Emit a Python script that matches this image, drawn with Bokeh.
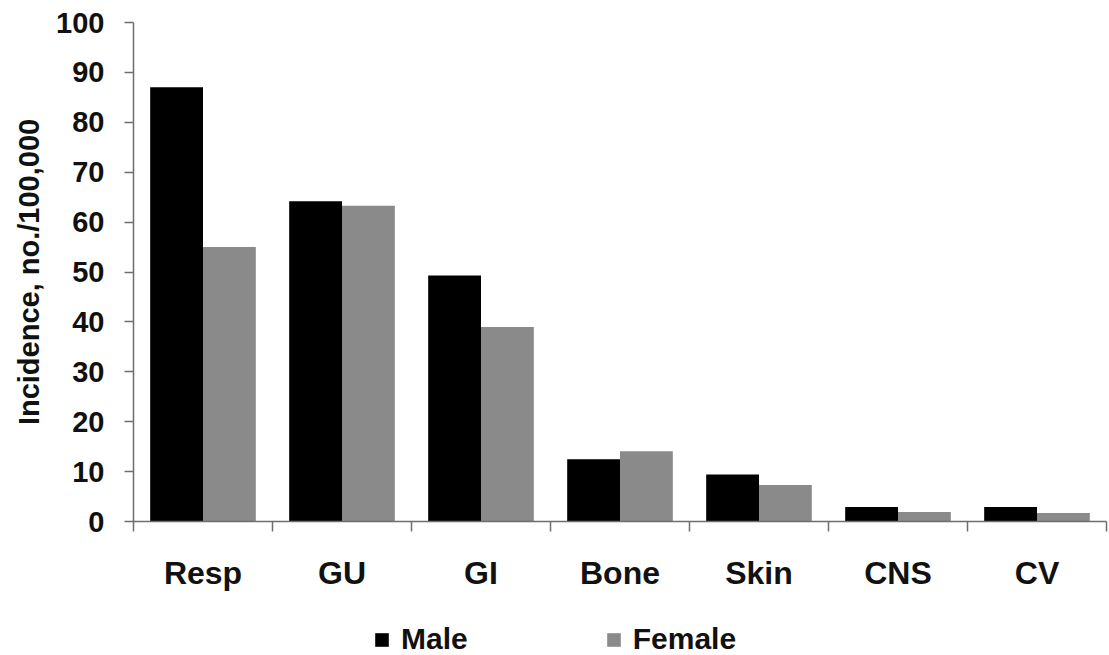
from bokeh.plotting import figure
from bokeh.layouts import column
from bokeh.models import Range1d, FixedTicker, Legend, LegendItem
from bokeh.embed import file_html
from bokeh.resources import INLINE

categories = ["Resp", "GU", "GI", "Bone", "Skin", "CNS", "CV"]
male = [87.0, 64.2, 49.3, 12.5, 9.4, 2.9, 2.9]
female = [55.0, 63.3, 39.0, 14.1, 7.3, 1.9, 1.7]
y_ticks = [0, 10, 20, 30, 40, 50, 60, 70, 80, 90, 100]
series_names = ["Male", "Female"]
colors = ["#000000", "#8a8a8a"]

FONT = "Liberation Sans"
TXT = "#111111"
AX = "#6e6e6e"
bar_w = 0.38
W = 1109
H_MAIN = 600
H_LEG = 55
FRAME_LEFT = 133

p = figure(width=W, height=H_MAIN, output_backend="svg", toolbar_location=None,
           x_range=Range1d(0, len(categories)), y_range=Range1d(0, 100),
           min_border_left=FRAME_LEFT, min_border_right=3, min_border_top=22,
           min_border_bottom=H_MAIN - 521)
p.outline_line_color = None
p.xgrid.visible = False
p.ygrid.visible = False

centers = [i + 0.5 for i in range(len(categories))]
p.vbar(x=[c - bar_w / 2 for c in centers], top=male, width=bar_w,
       fill_color=colors[0], line_color=None)
p.vbar(x=[c + bar_w / 2 for c in centers], top=female, width=bar_w,
       fill_color=colors[1], line_color=None)

# x axis: labels at category centres, ticks at category boundaries
xa = p.xaxis[0]
xa.ticker = FixedTicker(ticks=centers, minor_ticks=list(range(len(categories) + 1)))
xa.major_label_overrides = {c: cat for c, cat in zip(centers, categories)}
xa.major_tick_out = 0
xa.major_tick_in = 0
xa.minor_tick_out = 10
xa.minor_tick_in = 0
xa.minor_tick_line_color = AX
xa.minor_tick_line_width = 1.5
xa.axis_line_color = AX
xa.axis_line_width = 1.5
xa.major_label_text_font = FONT
xa.major_label_text_font_style = "bold"
xa.major_label_text_font_size = "32px"
xa.major_label_text_color = TXT
xa.major_label_standoff = 23

ya = p.yaxis[0]
ya.ticker = FixedTicker(ticks=y_ticks, minor_ticks=[])
ya.major_tick_out = 9
ya.major_tick_in = 0
ya.major_tick_line_color = AX
ya.major_tick_line_width = 1.5
ya.axis_line_color = AX
ya.axis_line_width = 1.5
ya.major_label_text_font = FONT
ya.major_label_text_font_style = "bold"
ya.major_label_text_font_size = "29px"
ya.major_label_text_color = TXT
ya.major_label_standoff = 20
ya.axis_label = "Incidence, no./100,000"
ya.axis_label_text_font = FONT
ya.axis_label_text_font_style = "bold"
ya.axis_label_text_font_size = "29px"
ya.axis_label_text_color = TXT
ya.axis_label_standoff = 8

# legend strip below the chart (legend proxies hold no drawable point)
q = figure(width=W, height=H_LEG, output_backend="svg", toolbar_location=None,
           x_range=Range1d(0, 1), y_range=Range1d(0, 1),
           x_axis_type=None, y_axis_type=None, min_border=0)
q.outline_line_color = None
q.xgrid.visible = False
q.ygrid.visible = False
nan = float("nan")
lm = q.vbar(x=[nan], top=[nan], width=0.1, fill_color=colors[0], line_color=None)
lf = q.vbar(x=[nan], top=[nan], width=0.1, fill_color=colors[1], line_color=None)
legend = Legend(items=[LegendItem(label=series_names[0], renderers=[lm]),
                       LegendItem(label=series_names[1], renderers=[lf])],
                orientation="horizontal", location=(373 - FRAME_LEFT, -1),
                label_text_font=FONT, label_text_font_style="bold",
                label_text_font_size="30px", label_text_color=TXT,
                glyph_width=17, glyph_height=17, label_standoff=11,
                spacing=137, padding=0, margin=0,
                background_fill_alpha=0, border_line_color=None)
q.add_layout(legend, "center")

layout = column(p, q, spacing=0)
open("out.html", "w").write(file_html(layout, INLINE))
